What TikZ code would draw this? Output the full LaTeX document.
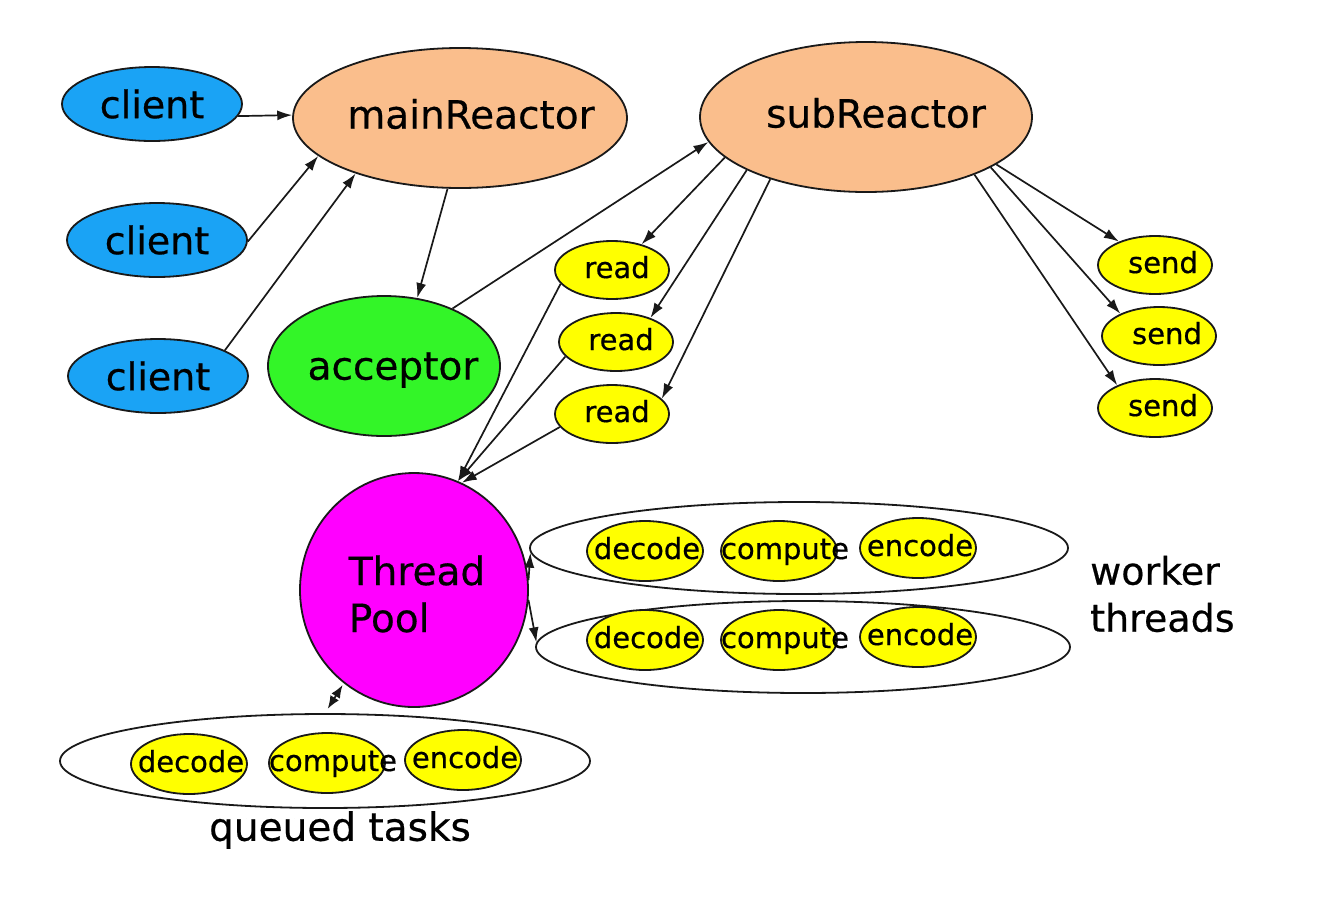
\documentclass[tikz,border=0pt]{standalone}
\usepackage{fontspec}
\setmainfont[FakeBold=0.5]{DejaVu Sans}
\usetikzlibrary{shapes.geometric,arrows.meta}
\definecolor{cblue}{RGB}{26,163,245}
\definecolor{cpeach}{RGB}{250,190,140}
\definecolor{cgreen}{RGB}{51,245,40}
\definecolor{cyel}{RGB}{255,255,0}
\definecolor{cmag}{RGB}{255,0,255}
\definecolor{cline}{RGB}{25,25,25}
\begin{document}
\begin{tikzpicture}[x=1pt,y=-1pt,
  blob/.style={ellipse, draw=cline, line width=1.8pt, inner sep=0pt},
  bigtxt/.style={font=\fontsize{39}{47}\selectfont, inner sep=0pt},
  smalltxt/.style={font=\fontsize{29}{35}\selectfont, inner sep=0pt, text height=22pt, text depth=6pt},
  clientnode/.style={blob, fill=cblue, minimum width=180pt, minimum height=74pt},
  reactor/.style={blob, fill=cpeach},
  ynode/.style={blob, fill=cyel, minimum width=114pt, minimum height=58pt},
  tnode/.style={blob, fill=cyel, minimum width=116pt, minimum height=60pt},
  group/.style={blob, fill=none},
  arr/.style={-{Latex[length=15pt,width=10pt]}, line width=1.7pt, cline},
  darr/.style={{Latex[length=13pt,width=10pt]}-{Latex[length=13pt,width=10pt]}, line width=1.7pt, cline}
]
\fill[white] (0,0) rectangle (1322,898);
\useasboundingbox (0,0) rectangle (1322,898);

% clients
\node[clientnode, label={[bigtxt,font=\fontsize{38}{46}\selectfont]center:client}] (c1) at (152,104) {};
\node[clientnode, label={[bigtxt,font=\fontsize{38}{46}\selectfont]center:client}] (c2) at (157,240) {};
\node[clientnode, label={[bigtxt,font=\fontsize{38}{46}\selectfont]center:client}] (c3) at (158,376) {};

% reactors
\node[reactor, minimum width=334pt, minimum height=140pt, label={[bigtxt,xshift=11pt,yshift=4pt]center:mainReactor}] (main) at (460,118) {};
\node[reactor, minimum width=332pt, minimum height=150pt, label={[bigtxt,xshift=10pt,yshift=4pt]center:subReactor}] (sub) at (866,117) {};
\node[blob, fill=cgreen, minimum width=232pt, minimum height=140pt, label={[bigtxt,xshift=9pt,yshift=-4pt]center:acceptor}] (acc) at (384,366) {};

% reads
\node[ynode, label={[smalltxt,xshift=5pt]center:read}] (r1) at (612,270) {};
\node[ynode, label={[smalltxt,xshift=5pt]center:read}] (r2) at (616,342) {};
\node[ynode, label={[smalltxt,xshift=5pt]center:read}] (r3) at (612,414) {};

% sends
\node[ynode, label={[smalltxt,xshift=8pt]center:send}] (s1) at (1155,265) {};
\node[ynode, label={[smalltxt,xshift=8pt]center:send}] (s2) at (1159,336) {};
\node[ynode, label={[smalltxt,xshift=8pt]center:send}] (s3) at (1155,408) {};

% thread pool
\node[blob, fill=cmag, minimum width=228pt, minimum height=234pt,
  label={[bigtxt,align=left,xshift=3pt,yshift=-4pt]center:Thread\\Pool}] (tp) at (414,590) {};

% worker groups
\node[group, minimum width=538pt, minimum height=92pt] (w1) at (799,548) {};
\node[group, minimum width=534pt, minimum height=92pt] (w2) at (803,647) {};
\node[group, minimum width=530pt, minimum height=94pt] (q) at (325,761) {};

\node[tnode, label={[smalltxt,xshift=2pt]center:decode}] (d1) at (645,551) {};
\node[tnode, label={[smalltxt,xshift=6pt]center:compute}] (cp1) at (779,551) {};
\node[tnode, label={[smalltxt,xshift=2pt]center:encode}] (e1) at (918,548) {};

\node[tnode, label={[smalltxt,xshift=2pt]center:decode}] (d2) at (645,640) {};
\node[tnode, label={[smalltxt,xshift=6pt]center:compute}] (cp2) at (779,640) {};
\node[tnode, label={[smalltxt,xshift=2pt]center:encode}] (e2) at (918,637) {};

\node[tnode, label={[smalltxt,xshift=2pt]center:decode}] (d3) at (189,764) {};
\node[tnode, label={[smalltxt,xshift=6pt]center:compute}] (cp3) at (327,763) {};
\node[tnode, label={[smalltxt,xshift=2pt]center:encode}] (e3) at (463,760) {};

% free labels
\node[bigtxt, font=\fontsize{38}{47}\selectfont, align=left, anchor=west] (wt) at (1090,594) {worker\\threads};
\node[bigtxt] (qt) at (340,830) {queued tasks};

% connectors
\draw[arr] (c1.-8) -- (main.179);
\draw[arr] (c2.-1) -- (main.-165);
\draw[arr] (c3.21) -- (main.-152);
\draw[arr] (main.-100) -- (acc.64);
\draw[arr] (acc.40) -- (sub.-171);
\draw[arr] (sub.-164) -- (r1.41);
\draw[arr] (sub.-156) -- (r2.35);
\draw[arr] (sub.-147) -- (r3.17);
\draw[arr] (r1.195) -- (tp.68);
\draw[arr] (r2.196) -- (tp.68);
\draw[arr] (r3.194) -- (tp.66);
\draw[arr] (sub.-20) -- (s1.147);
\draw[arr] (sub.-22) -- (s2.150);
\draw[arr] (sub.-28) -- (s3.149);
\draw[arr] (tp.5) -- (w1.181);
\draw[arr] (tp.-5) -- (w2.179);
\draw[darr, shorten >=5pt, shorten <=2pt] (tp.-127) -- (q.90);
\end{tikzpicture}
\end{document}
